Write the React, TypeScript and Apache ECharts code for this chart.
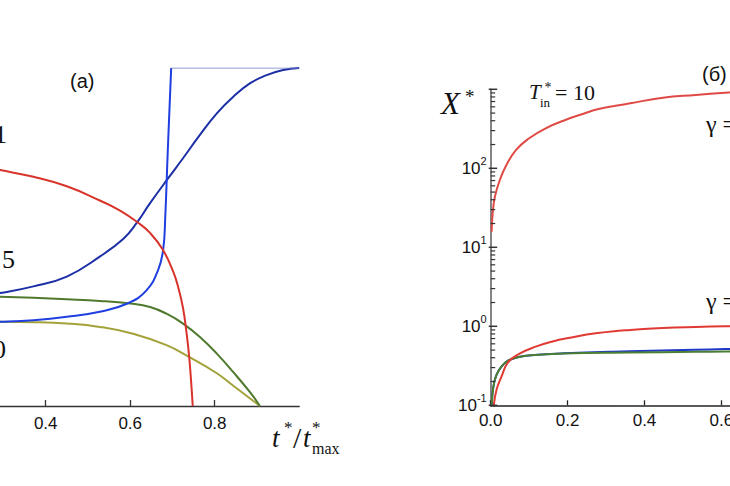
import React, { useEffect, useRef } from "react";
import * as echarts from "echarts";

// ---------- data: panel (a), x = t*/t*max, y = relative (axis not visible) ----------
const aRed = [[0.25,0.708],[0.292,0.698],[0.371,0.678],[0.45,0.65],[0.528,0.608],[0.576,0.578],[0.619,0.542],[0.647,0.512],[0.677,0.463],[0.702,0.397],[0.714,0.35],[0.725,0.29],[0.733,0.22],[0.74,0.14],[0.748,0]];
const aBlueS = [[0.25,0.326],[0.292,0.334],[0.371,0.354],[0.45,0.383],[0.528,0.442],[0.584,0.495],[0.615,0.541],[0.647,0.6],[0.69,0.674],[0.725,0.733],[0.765,0.802],[0.805,0.866],[0.844,0.915],[0.884,0.955],[0.923,0.979],[0.962,0.994],[1.0,1.0]];
const aBlueStep = [[0.25,0.248],[0.292,0.249],[0.371,0.254],[0.45,0.264],[0.528,0.279],[0.595,0.304],[0.639,0.343],[0.666,0.402],[0.678,0.462],[0.683,0.56],[0.689,0.757],[0.697,1.0]];
const aBlueFlat = [[0.697,1.0],[1.0,1.0]];
const aGreen = [[0.25,0.324],[0.292,0.323],[0.371,0.32],[0.45,0.316],[0.528,0.311],[0.601,0.303],[0.647,0.293],[0.686,0.273],[0.726,0.243],[0.765,0.204],[0.805,0.155],[0.844,0.1],[0.884,0.04],[0.907,0]];
const aOlive = [[0.25,0.249],[0.292,0.249],[0.371,0.248],[0.45,0.244],[0.528,0.234],[0.607,0.214],[0.686,0.18],[0.738,0.146],[0.805,0.097],[0.844,0.06],[0.907,0]];

// ---------- data: panel (б), log scale X* ----------
const bRedUpper = [[0.0025,15.7],[0.0051,26.9],[0.011,43.8],[0.0237,71.1],[0.0408,110],[0.066,171],[0.1,240],[0.143,321],[0.194,409],[0.245,497],[0.278,558],[0.363,665],[0.448,783],[0.533,847],[0.61,906],[0.65,930]];
const bRedLower = [[0.008,0.1],[0.015,0.156],[0.028,0.23],[0.045,0.35],[0.075,0.45],[0.117,0.552],[0.159,0.639],[0.202,0.71],[0.278,0.82],[0.363,0.9],[0.448,0.95],[0.533,0.98],[0.61,1.0],[0.65,1.01]];
const bBlue = [[0.0025,0.1],[0.007,0.172],[0.015,0.242],[0.028,0.308],[0.045,0.367],[0.07,0.405],[0.105,0.43],[0.19,0.455],[0.36,0.482],[0.53,0.505],[0.61,0.515],[0.65,0.52]];
const bGreen = [[0.0025,0.1],[0.007,0.172],[0.015,0.242],[0.028,0.308],[0.045,0.367],[0.07,0.405],[0.105,0.43],[0.19,0.452],[0.36,0.465],[0.53,0.475],[0.61,0.48],[0.65,0.482]];

const aXTicks = [0, 0.2, 0.4, 0.6, 0.8];
const bXTicks = [0, 0.2, 0.4, 0.6, 0.8, 1.0];
const bYTicks = [0.1, 1, 10, 100];
const bYMajorTicks = [0.1, 1, 10, 100, 1000];
const bYMinorTicks = [0.2,0.3,0.4,0.5,0.6,0.7,0.8,0.9,2,3,4,5,6,7,8,9,20,30,40,50,60,70,80,90,200,300,400,500,600,700,800,900];

const OX = 150;
const W = 1040;
const H = 486;
const SERIF = "'Liberation Serif', 'DejaVu Serif', serif";
const SANS = "'Liberation Sans', Arial, sans-serif";
const P = (x: number) => x + OX;

function txt(x: number, y: number, text: string, font: string, align = "left", color = "#111") {
  return {
    type: "text",
    x: P(x),
    y,
    silent: true,
    style: { text, font, fill: color, textAlign: align, textVerticalAlign: "middle", align, verticalAlign: "middle" },
  };
}

function line(data: number[][], color: string, xi: number, width = 2) {
  return {
    type: "line",
    xAxisIndex: xi,
    yAxisIndex: xi,
    data,
    symbol: "none",
    showSymbol: false,
    smooth: 0.45,
    lineStyle: { color, width },
    itemStyle: { color },
    silent: true,
    clip: true,
  };
}

// y-axis ticks of panel (б) drawn on the log axis' own scale (api.coord)
function tickSeries(values: number[], x0: number, x1: number, width: number) {
  return {
    type: "custom",
    xAxisIndex: 1,
    yAxisIndex: 1,
    silent: true,
    z: 10,
    data: values.map((v) => [0, v]),
    renderItem: (params: any, api: any) => {
      const p = api.coord([api.value(0), api.value(1)]);
      return {
        type: "line",
        shape: { x1: p[0] + x0, y1: p[1], x2: p[0] + x1, y2: p[1] },
        style: { stroke: "#333", lineWidth: width },
      };
    },
  };
}

export default function App() {
  const ref = useRef<HTMLDivElement>(null);
  useEffect(() => {
    document.documentElement.style.overflow = "hidden";
    document.body.style.overflow = "hidden";
    const chart = echarts.init(ref.current!, null, { renderer: "svg" });
    const option: any = {
      animation: false,
      backgroundColor: "#ffffff",
      textStyle: { fontFamily: SANS },
      grid: [
        { left: P(-123.3), width: 422.5, top: 68, bottom: H - 406, containLabel: false },
        { left: P(490.7), width: 392.5, top: 89.3, bottom: H - 405.3, containLabel: false },
      ],
      xAxis: [
        {
          type: "value", gridIndex: 0, min: 0, max: 1,
          axisLine: { lineStyle: { color: "#333", width: 1.4 } },
          axisTick: { inside: true, length: 6, customValues: aXTicks, lineStyle: { color: "#333", width: 1.3 } },
          axisLabel: { customValues: aXTicks, margin: 9, fontSize: 17, color: "#111", fontFamily: SANS, formatter: (v: number) => v.toFixed(1) },
          splitLine: { show: false },
        },
        {
          type: "value", gridIndex: 1, min: 0, max: 1,
          axisLine: { lineStyle: { color: "#222", width: 1.6 } },
          axisTick: { inside: true, length: 5, customValues: bXTicks, lineStyle: { color: "#222", width: 1.3 } },
          axisLabel: { customValues: bXTicks, margin: 7, fontSize: 17, color: "#111", fontFamily: SANS, formatter: (v: number) => v.toFixed(1) },
          splitLine: { show: false },
        },
      ],
      yAxis: [
        { type: "value", gridIndex: 0, min: 0, max: 1, show: false },
        {
          type: "log", logBase: 10, gridIndex: 1, min: 0.1, max: 1000,
          axisLine: { lineStyle: { color: "#666", width: 1.6 } },
          axisTick: { show: false },
          axisLabel: {
            margin: 4,
            customValues: bYTicks,
            formatter: (v: number) => `{b|10}{s|${Math.round(Math.log10(v))}}`,
            rich: {
              b: { fontSize: 17, fontFamily: SANS, color: "#111" },
              s: { fontSize: 11, fontFamily: SANS, color: "#111", padding: [0, 0, 14, 0] },
            },
          },
          splitLine: { show: false },
        },
      ],
      series: [
        line(aOlive, "#a3a23a", 0),
        line(aGreen, "#4f7a2d", 0),
        line(aBlueS, "#1c2fa6", 0),
        line(aBlueStep, "#1f3fe0", 0),
        { ...line(aBlueFlat, "#6f7ec6", 0, 1.2), smooth: false },
        line(aRed, "#d9342b", 0),
        line(bRedUpper, "#e04a45", 1),
        line(bBlue, "#2038c8", 1),
        line(bGreen, "#4a7f32", 1),
        line(bRedLower, "#e03a35", 1),
        tickSeries(bYMajorTicks, -2, 6.5, 1.5),
        tickSeries(bYMinorTicks, 0, 4.5, 1.2),
      ],
      graphic: [
        txt(70, 81, "(a)", `20px ${SANS}`),
        txt(7, 134, "γ = 1", `26px ${SERIF}`, "right"),
        txt(15, 259, "γ = 5", `26px ${SERIF}`, "right"),
        txt(6, 349, "γ = 10", `26px ${SERIF}`, "right"),
        // x-axis title  t*/t*max
        txt(272, 438, "t", `italic 27px ${SERIF}`),
        txt(284, 427, "*", `17px ${SERIF}`),
        txt(293, 437, "/", `30px ${SERIF}`),
        txt(303, 438, "t", `italic 27px ${SERIF}`),
        txt(312, 427, "*", `17px ${SERIF}`),
        txt(312, 448, "max", `16px ${SERIF}`),
        // panel (б)
        txt(702, 74, "(б)", `20px ${SANS}`),
        txt(441, 103, "X", `italic 31px ${SERIF}`),
        txt(465, 96, "*", `19px ${SERIF}`),
        txt(529, 92, "T", `italic 21px ${SERIF}`),
        txt(544.5, 87.5, "*", `14px ${SERIF}`),
        txt(540, 102.5, "in", `13px ${SERIF}`),
        txt(555, 92, "= 10", `22px ${SERIF}`),
        txt(706, 124, "γ = 10", `24px ${SERIF}`),
        txt(706, 301, "γ = 1", `24px ${SERIF}`),
      ],
    };
    chart.setOption(option);
    return () => chart.dispose();
  }, []);
  return (
    <div
      ref={ref}
      style={{ position: "fixed", left: -OX, top: 0, width: W, height: H, background: "#fff" }}
    />
  );
}
